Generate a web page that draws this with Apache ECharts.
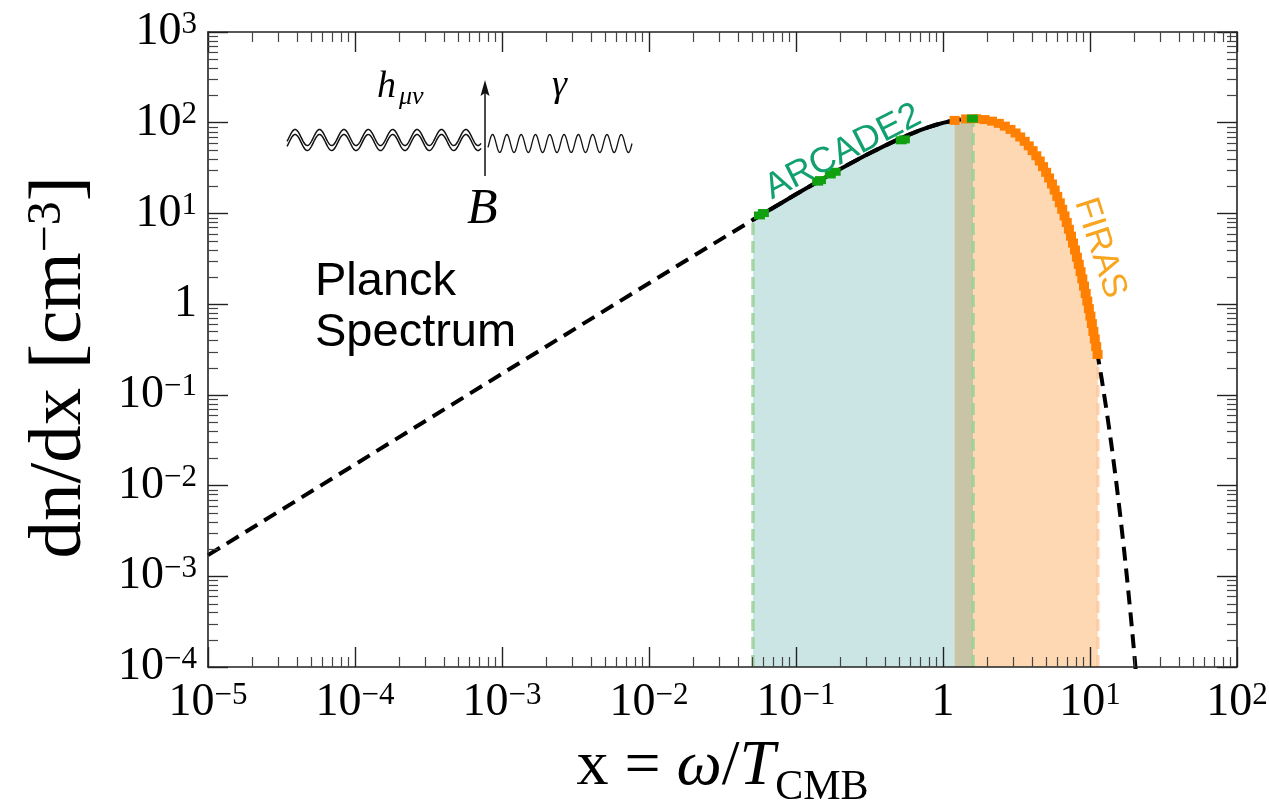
<!DOCTYPE html>
<html>
<head>
<meta charset="utf-8">
<script src="https://cdn.jsdelivr.net/npm/echarts@6/dist/echarts.min.js"></script>
<style>
  html, body { margin: 0; padding: 0; background: #ffffff; }
  #chart { width: 1269px; height: 809px; }
</style>
</head>
<body>
<div id="chart"></div>
<script>
// Planck spectrum of the CMB: x = ω/T_CMB, dn/dx in cm^-3
const curveX = [1e-5, 1e-4, 1e-3, 1e-2, 0.02, 0.03, 0.04, 0.051, 0.06, 0.08, 0.1, 0.12, 0.15, 0.2, 0.25, 0.3,
  0.4, 0.5, 0.6, 0.7, 0.8, 0.9, 1.0, 1.1, 1.2, 1.3, 1.4, 1.5, 1.6, 1.7, 1.8, 2.0, 2.25, 2.5, 2.75, 3.0,
  3.5, 4.0, 4.5, 5.0, 5.5, 6.0, 6.5, 7.0, 7.5, 8.0, 8.5, 9.0, 9.5, 10.0, 10.5, 11.0, 11.3, 12, 13, 14,
  15, 16, 17, 18, 19, 20, 21, 22];
const curveY = [1.71e-3, 0.0171, 0.171, 1.70, 3.39, 5.05, 6.70, 8.50, 9.96, 13.1, 16.3, 19.3, 23.8, 30.9, 37.6, 44.0,
  55.6, 65.9, 74.9, 82.7, 89.3, 94.9, 99.5, 103.2, 106.1, 108.3, 109.7, 110.5, 110.7, 110.5, 109.7, 107.1, 102.0, 95.6, 88.3, 80.6,
  65.2, 51.1, 38.9, 29.0, 21.2, 15.3, 10.9, 7.65, 5.32, 3.67, 2.51, 1.71, 1.16, 0.776, 0.519, 0.346, 0.270, 0.151, 0.0653, 0.0279,
  0.0118, 4.93e-3, 2.05e-3, 8.44e-4, 3.46e-4, 1.41e-4, 5.72e-5, 2.31e-5];

// solid part of the curve, where ARCADE2 measures it
const solidFrom = 0.051;
const solidTo = 1.2;

// ARCADE2 measurements
const arcadeX = [0.0564, 0.0600, 0.1404, 0.1467, 0.1712, 0.1847, 0.5195, 0.546, 1.585];
const arcadeY = [9.5, 10.1, 22.4, 23.3, 26.9, 28.8, 64.0, 65.5, 111];

// FIRAS measurements
const firasX = [1.199, 1.436, 1.679, 1.917, 2.154, 2.397, 2.635, 2.878, 3.115, 3.353, 3.596, 3.833, 4.071,
  4.314, 4.551, 4.794, 5.032, 5.269, 5.512, 5.750, 5.987, 6.230, 6.468, 6.711, 6.948, 7.186, 7.429, 7.666,
  7.904, 8.147, 8.384, 8.627, 8.865, 9.102, 9.345, 9.583, 9.826, 10.063, 10.301, 10.544, 10.781, 11.019, 11.262];
const firasY = [106.1, 110.1, 110.6, 108.3, 104.1, 98.4, 91.7, 84.4, 77.1, 69.7, 62.4, 55.6, 49.2,
  43.2, 37.8, 32.8, 28.4, 24.6, 21.1, 18.1, 15.4, 13.1, 11.1, 9.39, 7.94, 6.69, 5.61, 4.71,
  3.95, 3.29, 2.75, 2.28, 1.90, 1.58, 1.31, 1.08, 0.892, 0.738, 0.610, 0.501, 0.413, 0.340, 0.279];

// frequency coverage of the two experiments
const arcadeBand = [0.051, 1.6];
const firasBand = [1.2, 11.3];

// axis ranges
const xMin = 1e-5, xMax = 1e2;
const yMin = 1e-4, yMax = 1e3;

const SERIF = '"Liberation Serif", "DejaVu Serif", serif';
const SANS = '"Liberation Sans", Arial, sans-serif';

function powLabel(v) {
  const e = Math.round(Math.log10(v));
  if (e === 0) return '{b|1}';
  return '{b|10}{s|' + (e < 0 ? '\u2212' + (-e) : String(e)) + '}';
}
const labelRich = {
  b: { fontFamily: SERIF, fontSize: 46, color: '#000', lineHeight: 46, verticalAlign: 'bottom' },
  s: { fontFamily: SERIF, fontSize: 31, color: '#000', lineHeight: 14, verticalAlign: 'top' }
};

// minor tick positions 2..9 × 10^k
const minorX = [], minorY = [];
for (let e = Math.log10(xMin); e < Math.log10(xMax); e++) for (let m = 2; m < 10; m++) minorX.push([m * Math.pow(10, e), 1]);
for (let e = Math.log10(yMin); e < Math.log10(yMax); e++) for (let m = 2; m < 10; m++) minorY.push([1, m * Math.pow(10, e)]);

const pairs = (xs, ys) => xs.map((x, i) => [x, ys[i]]);
const curveData = pairs(curveX, curveY);
const solidData = curveData.filter(p => p[0] >= solidFrom && p[0] <= solidTo);

function curveAt(x) {
  return curveY[curveX.indexOf(x)];
}

function bandPolygon(api, band, fill) {
  const pts = [api.coord([band[0], yMin])];
  for (let i = 0; i < curveX.length; i++) {
    if (curveX[i] >= band[0] && curveX[i] <= band[1]) pts.push(api.coord([curveX[i], curveY[i]]));
  }
  pts.push(api.coord([band[1], yMin]));
  return { type: 'polygon', shape: { points: pts }, style: { fill: fill } };
}
function edgeLine(api, x, color) {
  const a = api.coord([x, yMin]);
  const b = api.coord([x, curveAt(x)]);
  return { type: 'line', shape: { x1: a[0], y1: a[1], x2: b[0], y2: b[1] },
           style: { stroke: color, lineWidth: 3.5, lineDash: [12, 6] } };
}

// inset diagram: graviton → photon conversion in a magnetic field
function wave(x0, x1, yc, amp, period, phase0) {
  const pts = [];
  for (let x = x0; x <= x1; x += 0.5) pts.push([x, yc - amp * Math.sin(2 * Math.PI * (x - phase0) / period)]);
  return pts;
}
function txt(x, y, text, font, fill, extra) {
  return Object.assign({ type: 'text', x: x, y: y,
    style: { text: text, font: font, fill: fill, align: 'left', verticalAlign: 'middle' } }, extra || {});
}
const diagram = [
  { type: 'polyline', shape: { points: wave(287, 481, 137.5, 8, 24.4, 289) }, style: { stroke: '#111', lineWidth: 1.5, fill: null } },
  { type: 'polyline', shape: { points: wave(287, 481, 142.5, 8, 24.4, 289) }, style: { stroke: '#111', lineWidth: 1.5, fill: null } },
  { type: 'polyline', shape: { points: wave(488, 632, 143.5, 9, 14.3, 489) }, style: { stroke: '#111', lineWidth: 1.3, fill: null } },
  { type: 'line', shape: { x1: 485, y1: 176, x2: 485, y2: 92 }, style: { stroke: '#111', lineWidth: 1.5 } },
  { type: 'polygon', shape: { points: [[485, 80], [480.5, 96], [485, 93], [489.5, 96]] }, style: { fill: '#111' } },
  txt(377, 87, 'h', 'italic 38px ' + SERIF, '#000'),
  txt(399, 97, 'μν', 'italic 26px ' + SERIF, '#000'),
  txt(552, 86, 'γ', 'italic 38px ' + SERIF, '#000'),
  txt(467, 210, 'B', 'italic 50px ' + SERIF, '#000')
];

const labels = [
  txt(315, 282, 'Planck', '47px ' + SANS, '#000'),
  txt(315, 333, 'Spectrum', '47px ' + SANS, '#000'),
  { type: 'text', x: 843, y: 152, rotation: 27 * Math.PI / 180,
    style: { text: 'ARCADE2', font: '36px ' + SANS, fill: '#12a06e', align: 'center', verticalAlign: 'middle' } },
  { type: 'text', x: 1100, y: 248, rotation: -72 * Math.PI / 180,
    style: { text: 'FIRAS', font: '35px ' + SANS, fill: '#f8a51f', align: 'center', verticalAlign: 'middle' } }
];

const axisLineStyle = { color: '#222', width: 1.6 };
const baseX = {
  type: 'log', logBase: 10, min: xMin, max: xMax, splitNumber: 8, z: 10,
  axisLine: { show: true, onZero: false, lineStyle: axisLineStyle },
  axisTick: { show: true, inside: true, length: 20, lineStyle: { color: '#222', width: 1.4 } },
  splitLine: { show: false }, minorTick: { show: false }
};
const baseY = {
  type: 'log', logBase: 10, min: yMin, max: yMax, splitNumber: 8, z: 10,
  axisLine: { show: true, onZero: false, lineStyle: axisLineStyle },
  axisTick: { show: true, inside: true, length: 20, lineStyle: { color: '#222', width: 1.4 } },
  splitLine: { show: false }, minorTick: { show: false }
};

const chart = echarts.init(document.getElementById('chart'), null, { renderer: 'canvas' });
chart.setOption({
  animation: false,
  backgroundColor: '#ffffff',
  grid: { left: 208, right: 32, top: 32, bottom: 142, containLabel: false, outerBoundsMode: 'none' },
  xAxis: [
    Object.assign({}, baseX, {
      position: 'bottom',
      axisLabel: { show: true, margin: 13, formatter: powLabel, rich: labelRich },
      name: '{t|x = }{i|ω}{t|/}{i|T}{u|CMB}', nameLocation: 'middle', nameGap: 68,
      nameTextStyle: { rich: {
        t: { fontFamily: SERIF, fontSize: 64, color: '#000', lineHeight: 74, verticalAlign: 'top' },
        i: { fontFamily: SERIF, fontSize: 64, fontStyle: 'italic', color: '#000', lineHeight: 74, verticalAlign: 'top' },
        u: { fontFamily: SERIF, fontSize: 42, color: '#000', lineHeight: 20, verticalAlign: 'bottom' }
      } }
    }),
    Object.assign({}, baseX, { position: 'top', axisLabel: { show: false } })
  ],
  yAxis: [
    Object.assign({}, baseY, {
      position: 'left',
      axisLabel: { show: true, margin: 11, formatter: powLabel, rich: labelRich },
      name: '{t|dn/dx [cm}{s|\u22123}{t|]}', nameLocation: 'middle', nameGap: 110, nameRotate: 90,
      nameTextStyle: { padding: [0, 36, 0, 0], rich: {
        t: { fontFamily: SERIF, fontSize: 75, color: '#000', lineHeight: 75, verticalAlign: 'bottom' },
        s: { fontFamily: SERIF, fontSize: 48, color: '#000', lineHeight: 16, verticalAlign: 'top' }
      } }
    }),
    Object.assign({}, baseY, { position: 'right', axisLabel: { show: false } })
  ],
  graphic: { elements: diagram.concat(labels).map(el => Object.assign({ z: 100 }, el)) },
  series: [
    {
      type: 'custom', name: 'bands', xAxisIndex: 0, yAxisIndex: 0, z: 1, silent: true,
      data: [[1, 1]],
      renderItem: (params, api) => {
        const overlap = [firasBand[0], arcadeBand[1]];
        return { type: 'group', children: [
          bandPolygon(api, arcadeBand, '#cbe5e4'),
          bandPolygon(api, firasBand, '#fed8b2'),
          bandPolygon(api, overlap, '#c9c4a6'),
          edgeLine(api, firasBand[1], 'rgba(252,200,160,0.8)'),
          edgeLine(api, arcadeBand[0], 'rgba(150,210,150,0.85)'),
          edgeLine(api, arcadeBand[1], 'rgba(150,210,150,0.85)')
        ] };
      }
    },
    {
      type: 'line', name: 'Planck', data: curveData, showSymbol: false, z: 3, clip: true,
      lineStyle: { color: '#000', width: 4, type: [14, 8] }
    },
    {
      type: 'line', name: 'Planck (measured)', data: solidData, showSymbol: false, z: 4, clip: true,
      lineStyle: { color: '#000', width: 4 }
    },
    {
      type: 'scatter', name: 'FIRAS', data: pairs(firasX, firasY), z: 5,
      symbol: 'rect', symbolSize: [10, 9], itemStyle: { color: '#ff8000', opacity: 1 }
    },
    {
      type: 'scatter', name: 'ARCADE2', data: pairs(arcadeX, arcadeY), z: 6,
      symbol: 'rect', symbolSize: [11, 8], itemStyle: { color: '#10a010', opacity: 1 }
    },
    {
      type: 'custom', name: 'xMinor', z: 20, silent: true, data: minorX,
      renderItem: (params, api) => {
        const cs = params.coordSys;
        const x = Math.round(api.coord([api.value(0), 1])[0]) + 0.5;
        const yb = cs.y + cs.height, yt = cs.y;
        return { type: 'group', children: [
          { type: 'line', shape: { x1: x, y1: yb, x2: x, y2: yb - 10 }, style: { stroke: '#444', lineWidth: 1.2 } },
          { type: 'line', shape: { x1: x, y1: yt, x2: x, y2: yt + 10 }, style: { stroke: '#444', lineWidth: 1.2 } }
        ] };
      }
    },
    {
      type: 'custom', name: 'yMinor', z: 20, silent: true, data: minorY,
      renderItem: (params, api) => {
        const cs = params.coordSys;
        const y = Math.round(api.coord([1, api.value(1)])[1]) + 0.5;
        const xl = cs.x, xr = cs.x + cs.width;
        return { type: 'group', children: [
          { type: 'line', shape: { x1: xl, y1: y, x2: xl + 10, y2: y }, style: { stroke: '#444', lineWidth: 1.2 } },
          { type: 'line', shape: { x1: xr, y1: y, x2: xr - 10, y2: y }, style: { stroke: '#444', lineWidth: 1.2 } }
        ] };
      }
    }
  ]
});
</script>
</body>
</html>
